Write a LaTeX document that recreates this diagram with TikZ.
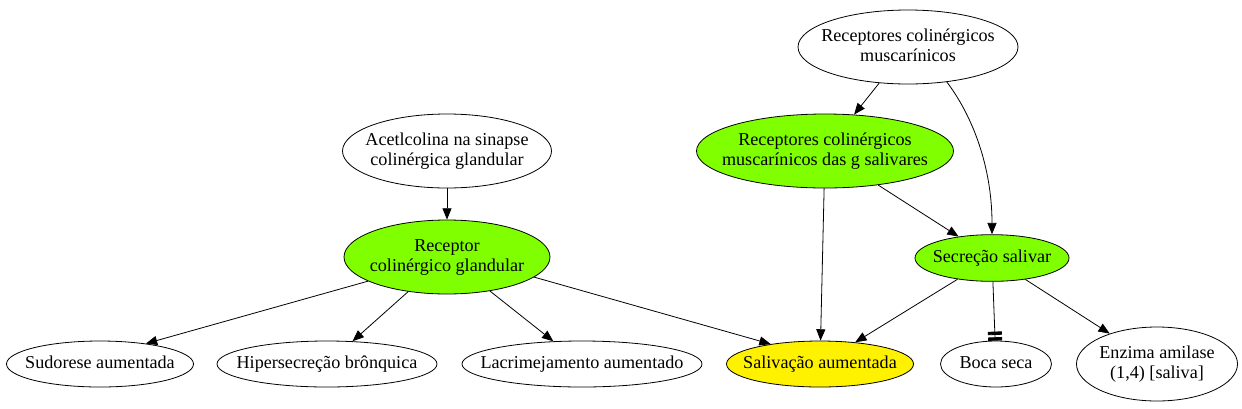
\documentclass[tikz,border=0pt]{standalone}
\usepackage{fontspec}
\setmainfont{Liberation Serif}
\usetikzlibrary{shapes.geometric,arrows.meta}

\definecolor{verde}{RGB}{127,255,0}
\newcommand{\rotulo}[1]{\makebox[0pt]{\begin{tabular}{@{}c@{}}#1\end{tabular}}}

\begin{document}
\begin{tikzpicture}[x=0.75pt,y=0.75pt,yscale=-1,xscale=1,
    oval/.style={draw,ellipse,inner sep=0pt,line width=0.6pt,font=\fontsize{13.6}{15}\selectfont},
    ativo/.style={oval,fill=verde},
    saida/.style={oval,fill=yellow},
    seta/.style={line width=0.6pt,-{Triangle[length=8.5pt,width=6.8pt]}},
    bloqueio/.style={line width=0.6pt,-{Rectangle[length=2.5pt,width=10.5pt,sep=1.75pt]Rectangle[length=2.5pt,width=10.5pt]}}]
    \useasboundingbox (0,0) rectangle (1242,408);
    % nos de cima
    \node [oval,minimum width=156.75pt,minimum height=55.5pt] (acetil) at (447,151) {\rotulo{Acetlcolina na sinapse\\colinérgica glandular}};
    \node [ativo,minimum width=154.5pt,minimum height=55.5pt] (receptor) at (447,257) {\rotulo{Receptor\\colinérgico glandular}};
    \node [oval,minimum width=165pt,minimum height=55.5pt] (musc) at (908,47) {\rotulo{Receptores colinérgicos\\muscarínicos}};
    \node [ativo,minimum width=192.75pt,minimum height=55.5pt] (muscg) at (825,151) {\rotulo{Receptores colinérgicos\\muscarínicos das g salivares}};
    \node [ativo,minimum width=115.5pt,minimum height=35pt] (secr) at (992,258) {\rotulo{Secreção salivar}};
    % nos de baixo
    \node [oval,minimum width=140.25pt,minimum height=34.5pt] (sudorese) at (100,364) {\rotulo{Sudorese aumentada}};
    \node [oval,minimum width=165pt,minimum height=34.5pt] (hiper) at (327,364) {\rotulo{Hipersecreção brônquica}};
    \node [oval,minimum width=180pt,minimum height=34.5pt] (lacri) at (582,364) {\rotulo{Lacrimejamento aumentado}};
    \node [saida,minimum width=140.25pt,minimum height=34.5pt] (saliv) at (820,364) {\rotulo{Salivação aumentada}};
    \node [oval,minimum width=83.25pt,minimum height=34.5pt] (boca) at (996,364) {\rotulo{Boca seca}};
    \node [oval,minimum width=120.75pt,minimum height=55.5pt] (enzima) at (1157,364) {\rotulo{Enzima amilase\\(1,4) [saliva]}};
    % setas
    \draw [seta] (acetil) -- (receptor);
    \draw [seta] (receptor.-163) -- (sudorese.24);
    \draw [seta] (receptor) -- (hiper);
    \draw [seta] (receptor) -- (lacri);
    \draw [seta] (receptor.-13) -- (saliv.158);
    \draw [seta] (musc) -- (muscg);
    \draw [seta] (musc.-42) .. controls +(30,40) and +(0,-60) .. (secr.north);
    \draw [seta] (muscg) -- (saliv);
    \draw [seta] (muscg) -- (secr);
    \draw [seta] (secr) -- (saliv);
    \draw [bloqueio] (secr) -- (boca);
    \draw [seta] (secr) -- (enzima);
\end{tikzpicture}
\end{document}
